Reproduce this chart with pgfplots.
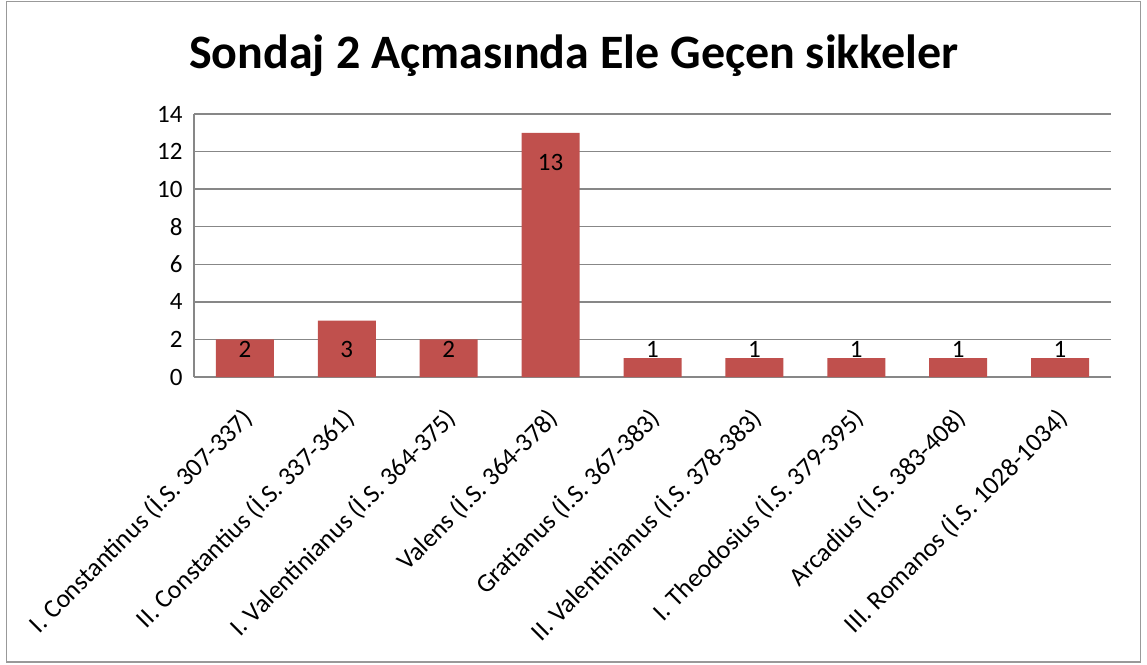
\documentclass[border=0pt]{standalone}
\usepackage{pgfplots}
\pgfplotsset{compat=1.18}
\usepackage{fontspec}
\setmainfont{Carlito}
\definecolor{barred}{HTML}{C0504D}
\definecolor{gridgray}{HTML}{878787}
\begin{document}
\begin{tikzpicture}
\path[use as bounding box, fill=white] (0pt,0pt) rectangle (1147pt,-664pt);
\draw[line width=1.5pt, draw=black!40] (6.5pt,-1.5pt) rectangle (1140.5pt,-662pt);
\node[font=\bfseries\fontsize{48}{54}\selectfont, anchor=base] at (574pt,-68pt) {Sondaj 2 Açmasında Ele Geçen sikkeler};
\begin{axis}[
  at={(194pt,-377pt)}, anchor=south west,
  scale only axis, width=917pt, height=263pt,
  xmin=-0.5, xmax=8.5, ymin=0, ymax=14,
  ytick={0,2,...,14},
  xtick={0,...,8},
  xticklabels={I. Constantinus (İ.S. 307-337), II. Constantius (İ.S. 337-361), I. Valentinianus (İ.S. 364-375), Valens (İ.S. 364-378), Gratianus (İ.S. 367-383), II. Valentinianus (İ.S. 378-383), I. Theodosius (İ.S. 379-395), Arcadius (İ.S. 383-408), III. Romanos (İ.S. 1028-1034)},
  x tick label style={rotate=45, anchor=east, font=\fontsize{26}{29}\selectfont, inner sep=0pt, xshift=-24pt, yshift=-28pt},
  y tick label style={font=\fontsize{25}{28}\selectfont, xshift=-8pt},
  /pgf/number format/assume math mode=true,
  major tick length=0pt,
  ymajorgrids, grid style={gridgray, line width=1.5pt},
  axis line style={gridgray, line width=1.5pt},
  axis x line*=bottom, axis y line*=left,
  x axis line style={-}, y axis line style={-},
  clip=false,
]
\addplot[ybar, bar width=58pt, fill=barred, draw=none] coordinates {(0,2) (1,3) (2,2) (3,13) (4,1) (5,1) (6,1) (7,1) (8,1)};
\addplot[draw=none, mark=none, nodes near coords, point meta=explicit symbolic,
  every node near coord/.style={font=\fontsize{25}{28}\selectfont, anchor=center, black}]
  coordinates {(0,1.45)[2] (1,1.45)[3] (2,1.45)[2] (3,11.4)[13] (4,1.45)[1] (5,1.45)[1] (6,1.45)[1] (7,1.45)[1] (8,1.45)[1]};
\end{axis}
\end{tikzpicture}
\end{document}
